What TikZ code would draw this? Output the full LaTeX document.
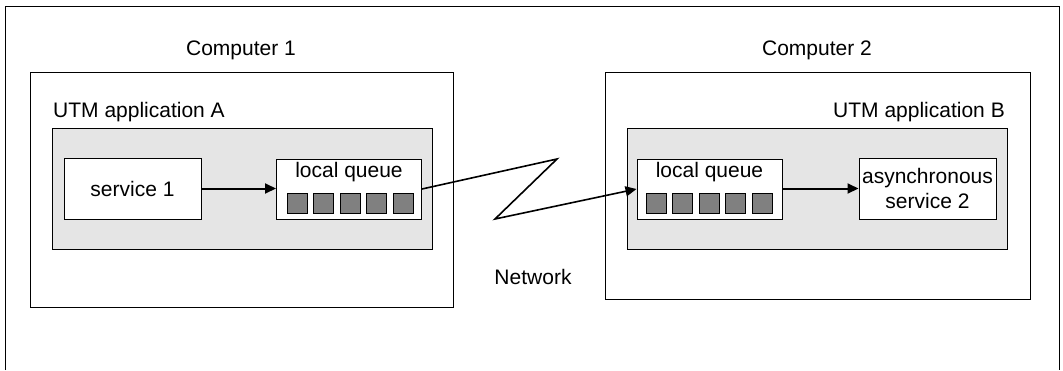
\documentclass[tikz,border=0pt]{standalone}
\usepackage{fontspec}
\setmainfont{Liberation Sans}
\usetikzlibrary{arrows.meta, positioning}

\begin{document}
\begin{tikzpicture}[
        x=1pt, y=-1pt,
        every node/.style={font=\fontsize{21pt}{25pt}\selectfont, inner sep=0pt},
        computer/.style={rectangle, draw, line width=1pt, minimum width=#1, minimum height=235pt},
        app/.style={rectangle, draw, fill=gray!20, line width=1pt, minimum width=380pt, minimum height=121pt},
        service/.style={rectangle, draw, fill=white, line width=1pt, minimum width=137pt, minimum height=61pt, align=center},
        queue/.style={rectangle, draw, fill=white, line width=1pt, minimum width=145pt, minimum height=60pt},
        slot/.style={rectangle, draw, fill=gray, line width=0.8pt, minimum size=20pt},
        arrow/.style={-{Triangle[length=11pt, width=10pt]}, line width=2pt}
    ]
        \useasboundingbox (0,0) rectangle (1063,370);
        \draw[line width=1pt] (5,370) -- (5,6) -- (1059,6) -- (1059,370);

        % computers
        \node[computer=423pt] (comp1) at (241.5,189.5) {};
        \node[computer=425pt, minimum height=227pt] (comp2) at (817.5,185.5) {};
        \node (comp1lbl) at (241,50) {Computer 1};
        \node (comp2lbl) at (817,50) {Computer 2};

        % applications
        \node[app] (appA) at (242.5,188.5) {};
        \node[app] (appB) at (817,188.5) {};
        \node[anchor=west] (appAlbl) at (53,112) {UTM application A};
        \node[anchor=east] (appBlbl) at (1005,112) {UTM application B};

        \node[service] (svc1) at (132.5,188.5) {service 1};
        \node[service] (svc2) at (927.5,188.5) {asynchronous\\service 2};

        \node[queue] (qA) at (349,189) {};
        \node[queue] (qB) at (709.5,189) {};
        \node[yshift=-14pt] (qAlbl) at (qA.north) {local queue};
        \node[yshift=-14pt] (qBlbl) at (qB.north) {local queue};
        \foreach \i in {0,...,4} {
            \node[slot] (qAs\i) at (297+26.5*\i,203) {};
            \node[slot] (qBs\i) at (656+26.5*\i,203) {};
        }

        % network
        \coordinate (zz1) at (557,159);
        \coordinate (zz2) at (495,219);
        \node (net) at (533,277) {Network};

        \draw[arrow] (svc1) -- (qA.west |- svc1);
        \draw[arrow] (qB.east |- svc2) -- (svc2);
        \draw[arrow, line width=1.6pt] (qA.east) -- (zz1) -- (zz2) -- (qB.west);
    \end{tikzpicture}
\end{document}
